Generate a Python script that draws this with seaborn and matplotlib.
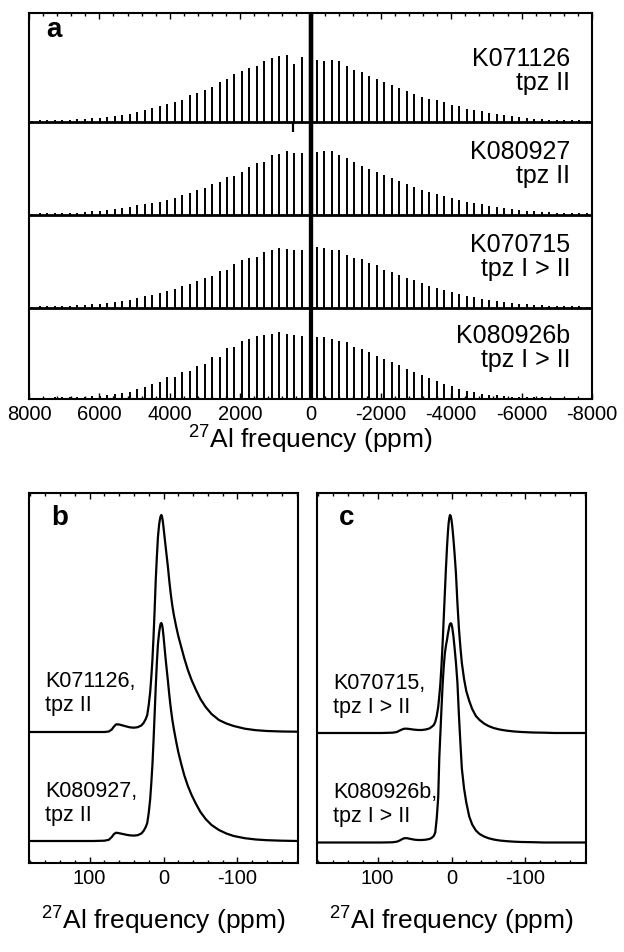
import numpy as np
import pandas as pd
import matplotlib
matplotlib.use("Agg")
import matplotlib.pyplot as plt
from matplotlib.ticker import MultipleLocator
import seaborn as sns

# ---------------- panel a: 27Al spinning-sideband manifolds ----------------
names_a = ["K071126", "K080927", "K070715", "K080926b"]
phases_a = ["tpz II", "tpz II", "tpz I > II", "tpz I > II"]
sideband_spacing_ppm = 213          # spinning rate expressed in ppm
sideband_shift_ppm = 30             # position of the sideband comb
central_peak_ppm = 0                # central transition (off scale)
central_peak_height = 2000

# sideband heights, orders 1..37 on the high-frequency (left) side and
# orders 1..37 on the low-frequency (right) side
k071126_left = [65, 58, 67, 66, 64, 61, 56, 54, 51, 48, 43, 40, 35, 32, 29, 27, 22, 20, 18,
                16, 14, 12, 10, 8.3, 6.7, 5.7, 5, 4.3, 3.7, 3, 2.7, 2.3, 2, 2, 1.8, 1.6, 1.5]
k071126_right = [62, 61, 62, 61, 56, 52, 50, 46, 43, 40, 37, 34, 31, 28, 25, 23, 21.7, 20, 16.7,
                 15.7, 13.3, 11.7, 10.7, 9, 7.7, 6.7, 5.7, 4.7, 4, 3.3, 3, 2.5, 2.3, 2, 1.8, 1.6, 1.5]
k080927_left = [62, 62, 64, 61, 60, 53, 52, 48, 43, 39, 38, 33, 31, 27, 25, 22, 20, 17, 15,
                13.3, 11.7, 10.7, 10, 8, 6.7, 5.7, 5, 4.3, 3.7, 3, 2.5, 2.3, 2, 2, 1.8, 1.6, 1.5]
k080927_right = [63, 64, 64, 60, 57, 53, 49, 46, 43, 40, 37, 34, 31, 28, 25, 23, 21, 19, 16.7,
                 15, 13.3, 12, 10.7, 9.3, 8, 7, 6, 5, 4.3, 3.7, 3.2, 2.8, 2.5, 2.2, 2, 1.8, 1.6]
k070715_left = [58, 58, 59, 60, 58, 56, 51, 50, 48, 44, 38, 37, 32, 30, 27, 24, 22, 19, 17,
                15, 13.3, 11.7, 10, 8.5, 7, 6, 5, 4.3, 3.7, 3, 2.7, 2.3, 2, 2, 1.8, 1.6, 1.5]
k070715_right = [61, 60, 58, 58, 53, 50, 49, 45, 43, 38, 36, 33, 30.5, 28, 25, 22.5, 20, 18, 16,
                 14, 12.5, 11, 9.5, 8, 7, 6, 5, 4.3, 3.7, 3, 2.7, 2.3, 2, 2, 1.8, 1.6, 1.5]
k080926b_left = [63, 64, 65, 67, 65, 64, 63, 60, 58, 52, 51, 42, 42, 35, 33, 28, 27, 22, 22,
                 17, 15, 12, 10, 7.3, 6, 5, 4, 3.3, 3, 2.5, 2.2, 2, 1.8, 1.6, 1.5, 1.4, 1.3]
k080926b_right = [62, 62, 60, 58, 57, 52, 50, 47, 43, 40, 37, 34, 30, 27, 24, 21, 18, 15, 12.7,
                  10, 8.3, 6.7, 5.5, 4.5, 3.7, 3, 2.5, 2.2, 2, 1.8, 1.6, 1.5, 1.4, 1.3, 1.2, 1.1, 1]
lefts_a = [k071126_left, k080927_left, k070715_left, k080926b_left]
rights_a = [k071126_right, k080927_right, k070715_right, k080926b_right]
offsets_a = [277, 184, 91, 0]
dip_ppm_k071126 = 490                # small negative artefact in top trace
dip_depth_k071126 = 10

# ---------------- panels b, c: central-transition line shapes ----------------
ppm_ct = [182, 150, 120, 95, 80, 74, 70, 67, 64, 60, 55, 50, 45, 40, 35, 30, 27, 24, 22, 20,
          18, 16.5, 15, 13.5, 12, 10.5, 9, 7.5, 6, 5, 4, 3, 2, 1, 0, -1, -2.5, -4, -6, -8,
          -10, -12, -14, -17, -20, -24, -28, -33, -38, -44, -50, -57, -65, -75, -85, -95,
          -110, -125, -140, -160, -182]
ct_k071126 = [0, 0, 0, 0, 0, 0.5, 2.5, 5.5, 7.7, 7.5, 6.5, 5.5, 4.6, 4.3, 4.8, 6.5, 9, 13, 17, 27,
              40, 55, 72, 95, 122, 152, 175, 195, 207, 212, 215.5, 217, 215.5, 211, 205, 198, 188,
              178, 165, 150, 137, 126, 117, 106, 96, 85, 74, 62, 52, 42, 33, 25, 18, 12, 8.5, 6,
              3.3, 1.8, 1, 0.5, 0.3]
ct_k080927 = [0, 0, 0, 0, 0.3, 1.2, 4, 7, 8.3, 7.8, 7, 6.2, 5.6, 5.4, 5.8, 7.5, 10, 14, 18, 28,
              42, 58, 76, 100, 127, 154, 178, 197, 208, 213, 217, 218, 216.5, 212, 205, 197, 185,
              174, 160, 145, 132, 121, 112, 100, 89, 77, 66, 55, 46, 37, 29, 22, 16, 11, 7.5, 5,
              2.8, 1.5, 0.8, 0.3, 0]
ct_k070715 = [0, 0, 0, 0, 0.3, 1, 2.5, 3.5, 4.3, 4.3, 3.8, 3.3, 3, 3, 3.5, 4.5, 6, 8, 11, 17,
              26, 37, 50, 68, 90, 115, 140, 165, 187, 199, 209, 215, 218, 217, 213, 207, 195,
              181, 160, 130, 105, 86, 70, 54, 42, 32, 24, 17, 13, 9.5, 7, 5, 3.5, 2.3, 1.5, 1,
              0.5, 0.3, 0, 0, 0]
ct_k080926b = [0, 0, 0, 0, 0.2, 0.8, 2, 3.3, 4.3, 4.3, 3.5, 2.8, 2.5, 2.5, 2.8, 3.5, 4.5, 6.5, 10,
               24, 45, 85, 110, 135, 158, 176, 189, 197, 203, 208, 212, 216, 218.5, 219.3, 218.5,
               215, 207, 196, 180, 160, 128, 100, 74, 54, 40, 26, 18, 12, 8.5, 6, 4.3, 3, 2,
               1.3, 0.8, 0.5, 0.3, 0, 0, 0, 0]
names_b = ["K071126", "K080927"]
phases_b = ["tpz II", "tpz II"]
curves_b = [ct_k071126, ct_k080927]
offsets_b = [131, 22]
names_c = ["K070715", "K080926b"]
phases_c = ["tpz I > II", "tpz I > II"]
curves_c = [ct_k070715, ct_k080926b]
offsets_c = [130, 20.5]

# ---------------- style ----------------
sns.set_theme(style="ticks")
plt.rcParams["font.family"] = ["Liberation Sans", "DejaVu Sans"]
plt.rcParams["mathtext.fontset"] = "custom"
plt.rcParams["mathtext.rm"] = "Liberation Sans"
plt.rcParams["axes.unicode_minus"] = False
plt.rcParams["text.color"] = "black"
plt.rcParams["axes.labelcolor"] = "black"
plt.rcParams["xtick.color"] = "black"
plt.rcParams["ytick.color"] = "black"
plt.rcParams["axes.edgecolor"] = "black"
XLABEL = r"$\mathregular{^{27}}$Al frequency (ppm)"

fig = plt.figure(figsize=(6.24, 9.52), dpi=100)
W, H = 624, 952
ax_a = fig.add_axes([29 / W, 1 - 399 / H, 563 / W, 386 / H])
ax_b = fig.add_axes([29 / W, 1 - 863 / H, 269 / W, 370 / H])
ax_c = fig.add_axes([317 / W, 1 - 863 / H, 269 / W, 370 / H])


def style_axis(ax, major, minor):
    ax.set_facecolor("white")
    for s in ax.spines.values():
        s.set_linewidth(1.5)
        s.set_color("black")
        s.set_visible(True)
    ax.xaxis.set_major_locator(MultipleLocator(major))
    ax.xaxis.set_minor_locator(MultipleLocator(minor))
    ax.tick_params(axis="x", which="both", direction="in", top=True, bottom=True,
                   colors="black", labelcolor="black", labelsize=14.5, pad=4.5, width=1)
    ax.tick_params(axis="x", which="major", length=4)
    ax.tick_params(axis="x", which="minor", length=2)
    ax.tick_params(axis="y", which="both", left=False, right=False, labelleft=False)
    ax.set_ylabel("")
    ax.grid(False)


# ---- panel a ----
orders = np.arange(1, len(k071126_left) + 1)
for name, phase, left, right, off in zip(names_a, phases_a, lefts_a, rights_a, offsets_a):
    ppm_left = sideband_shift_ppm + sideband_spacing_ppm * orders
    ppm_right = sideband_shift_ppm - sideband_spacing_ppm * orders
    ax_a.hlines(off, 8000, -8000, color="black", lw=2.0)
    ax_a.vlines(ppm_left, off, off + np.array(left), color="black", lw=1.4)
    ax_a.vlines(ppm_right, off, off + np.array(right), color="black", lw=1.4)
    ax_a.vlines(central_peak_ppm, off, off + central_peak_height, color="black", lw=3.0)
    ax_a.text(-7380, off + 56, name, ha="right", va="baseline", fontsize=18, color="black")
    ax_a.text(-7380, off + 32, phase, ha="right", va="baseline", fontsize=18, color="black")
ax_a.vlines(dip_ppm_k071126, offsets_a[0] - dip_depth_k071126, offsets_a[0],
            color="black", lw=1.6)
ax_a.set_xlim(8000, -8000)
ax_a.set_ylim(0, 386)
style_axis(ax_a, 2000, 400)
ax_a.set_xlabel(XLABEL, fontsize=19, color="black")
ax_a.xaxis.set_label_coords(0.5, -0.065)
ax_a.xaxis.label.set_va("top")
ax_a.text(7500, 362, "a", fontsize=20, fontweight="bold", ha="left", va="baseline",
          color="black")


# ---- panels b, c ----
def draw_ct(ax, names, phases, curves, offsets, letter):
    rows = []
    for name, curve, off in zip(names, curves, offsets):
        for p, v in zip(ppm_ct, curve):
            rows.append({"sample": name, "ppm": p, "y": v + off})
    df = pd.DataFrame(rows)
    sns.lineplot(data=df, x="ppm", y="y", units="sample", estimator=None,
                 color="black", linewidth=1.6, ax=ax, legend=False)
    for name, phase, off in zip(names, phases, offsets):
        ax.text(160, off + 44.5, name + ",", ha="left", va="baseline", fontsize=15.5,
                color="black")
        ax.text(160, off + 20.5, phase, ha="left", va="baseline", fontsize=15.5,
                color="black")
    ax.set_xlim(182, -182)
    ax.set_ylim(0, 370)
    style_axis(ax, 100, 20)
    ax.set_xlabel(XLABEL, fontsize=19, color="black")
    ax.xaxis.set_label_coords(0.5, -0.112)
    ax.xaxis.label.set_va("top")
    ax.text(152, 338, letter, fontsize=20, fontweight="bold", ha="left", va="baseline",
            color="black")


draw_ct(ax_b, names_b, phases_b, curves_b, offsets_b, "b")
draw_ct(ax_c, names_c, phases_c, curves_c, offsets_c, "c")

fig.savefig("out.png", dpi=100, facecolor="white")
